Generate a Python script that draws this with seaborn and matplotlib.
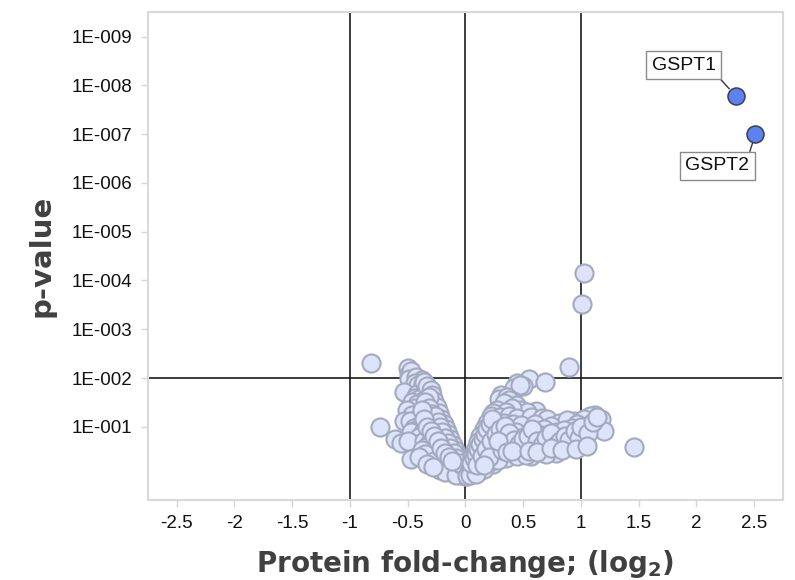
import numpy as np
import pandas as pd
import seaborn as sns
import matplotlib.pyplot as plt

# log2 fold-change and -log10(p) (background proteins)
fc_left = [-0.82, -0.50, -0.49, -0.47, -0.49, -0.40, -0.43, -0.38, -0.44, -0.41, -0.37, -0.35,
           -0.53, -0.35, -0.39, -0.42, -0.33, -0.36, -0.44, -0.40, -0.34, -0.31, -0.37, -0.46,
           -0.42, -0.33, -0.30, -0.38, -0.44, -0.51, -0.35, -0.31, -0.28, -0.40, -0.46, -0.33,
           -0.29, -0.37, -0.42, -0.26, -0.31, -0.53, -0.48, -0.35, -0.28, -0.24, -0.40, -0.74,
           -0.45, -0.32, -0.27, -0.22, -0.43, -0.47, -0.37, -0.30, -0.25, -0.20, -0.34, -0.40,
           -0.28, -0.23, -0.61, -0.56, -0.44, -0.50, -0.36, -0.31, -0.18, -0.26, -0.21, -0.34,
           -0.29, -0.16, -0.24, -0.19, -0.38, -0.13, -0.31, -0.47, -0.27, -0.22, -0.16, -0.11,
           -0.35, -0.40, -0.20, -0.14, -0.09, -0.27, -0.17, -0.12, -0.07, -0.33, -0.22, -0.15,
           -0.10, -0.05, -0.11, -0.07, -0.03, -0.18, -0.28, 0.00, -0.02, -0.05, -0.08,
           -0.36, -0.33, -0.30, -0.29, -0.27, -0.25, -0.23, -0.21, -0.19, -0.17, -0.15, -0.13,
           -0.11, -0.09, -0.07, -0.05, -0.03, -0.32, -0.35, -0.32, -0.29, -0.26, -0.24, -0.22,
           -0.20, -0.18, -0.15, -0.13, -0.10, -0.08, -0.05, -0.38, -0.36, -0.33, -0.30, -0.27,
           -0.24, -0.21, -0.18, -0.14, -0.12]
nlp_left = [2.30, 2.21, 2.09, 2.15, 1.99, 1.99, 2.02, 1.95, 1.90, 1.86, 1.88, 1.80,
            1.71, 1.76, 1.72, 1.68, 1.70, 1.64, 1.60, 1.58, 1.58, 1.55, 1.52, 1.50,
            1.46, 1.45, 1.42, 1.40, 1.38, 1.35, 1.33, 1.31, 1.30, 1.28, 1.25, 1.24,
            1.22, 1.19, 1.16, 1.15, 1.13, 1.11, 1.12, 1.07, 1.05, 1.03, 1.02, 0.99,
            0.98, 0.96, 0.93, 0.92, 0.94, 0.90, 0.90, 0.87, 0.84, 0.82, 0.82, 0.80,
            0.78, 0.75, 0.74, 0.67, 0.64, 0.70, 0.71, 0.68, 0.70, 0.65, 0.63, 0.58,
            0.56, 0.58, 0.53, 0.51, 0.52, 0.50, 0.40, 0.33, 0.44, 0.42, 0.42, 0.43,
            0.45, 0.38, 0.34, 0.33, 0.34, 0.29, 0.26, 0.25, 0.26, 0.24, 0.12, 0.17,
            0.16, 0.18, 0.05, 0.09, 0.10, 0.08, 0.18, 0.00, 0.03, 0.02, 0.01,
            1.92, 1.84, 1.75, 1.65, 1.52, 1.40, 1.28, 1.17, 1.05, 0.95, 0.85, 0.74,
            0.63, 0.52, 0.42, 0.31, 0.21, 1.62, 1.50, 1.38, 1.27, 1.22, 1.10, 0.99,
            0.89, 0.78, 0.66, 0.56, 0.46, 0.36, 0.26, 1.34, 1.15, 1.00, 0.92, 0.82,
            0.70, 0.57, 0.46, 0.38, 0.30]

fc_right = [0.90, 1.03, 1.01, 0.55, 0.69, 0.45, 0.42, 0.50, 0.47,
            0.31, 0.29, 0.41, 0.36, 0.38, 0.44, 0.33,
            0.61, 0.48, 0.53, 0.40, 0.27, 0.35, 0.24,
            0.22, 0.30, 0.38, 0.45, 0.57, 0.66, 0.71, 0.81, 0.94, 1.12, 1.08, 1.17, 1.03, 0.88,
            0.19, 0.26, 0.33, 0.29, 0.41, 0.52, 0.48, 0.60, 0.74, 0.97, 1.05, 0.92, 0.68,
            0.16, 0.22, 0.36, 0.44, 0.55, 0.63, 0.78, 0.85, 1.01, 1.20, 0.27, 0.71,
            0.13, 0.19, 0.25, 0.31, 0.39, 0.47, 0.58, 0.66, 0.88, 0.94, 1.03, 0.75, 0.82,
            0.11, 0.16, 0.22, 0.28, 0.35, 0.42, 0.50, 0.67, 0.99, 0.86, 0.60, 1.46, 0.93,
            0.08, 0.13, 0.19, 0.25, 0.30, 0.35, 0.45, 0.57, 0.78, 0.70, 0.52,
            0.06, 0.10, 0.15, 0.24, 0.20, 0.28,
            0.04, 0.08, 0.12, 0.16, 0.03, 0.06,
            0.01, 0.04, 0.09,
            0.05, 0.07, 0.09, 0.11, 0.13, 0.15, 0.17, 0.19, 0.21, 0.23, 0.10, 0.14,
            0.18, 0.22, 0.26, 0.30, 0.34, 0.38, 0.42, 0.46, 0.50, 0.54, 0.58, 0.62,
            0.66, 0.70, 0.74, 0.78, 0.82, 0.86, 0.90, 0.95, 0.98, 1.00, 1.06, 1.10,
            1.14, 0.20, 0.16, 0.32, 0.28, 0.36, 0.40, 0.55, 0.62, 0.74, 0.84, 0.96, 1.05]
nlp_right = [2.23, 4.16, 3.52, 1.98, 1.91, 1.90, 1.80, 1.83, 1.86,
             1.66, 1.56, 1.52, 1.62, 1.55, 1.45, 1.48,
             1.32, 1.35, 1.30, 1.38, 1.35, 1.30, 1.28,
             1.22, 1.20, 1.22, 1.18, 1.20, 1.18, 1.15, 1.08, 1.11, 1.25, 1.22, 1.15, 1.15, 1.14,
             1.08, 1.05, 1.08, 1.01, 1.06, 0.97, 1.04, 1.05, 1.02, 1.05, 1.02, 0.98, 0.96,
             0.95, 0.92, 0.93, 0.90, 0.88, 0.86, 0.90, 0.93, 0.91, 0.91, 0.88, 0.84,
             0.82, 0.78, 0.76, 0.80, 0.77, 0.78, 0.74, 0.72, 0.74, 0.80, 0.70, 0.70, 0.78,
             0.68, 0.64, 0.62, 0.60, 0.63, 0.58, 0.60, 0.54, 0.64, 0.60, 0.56, 0.59, 0.58,
             0.52, 0.48, 0.45, 0.46, 0.42, 0.36, 0.41, 0.40, 0.47, 0.44, 0.43,
             0.38, 0.33, 0.30, 0.23, 0.28, 0.31,
             0.20, 0.16, 0.09, 0.14, 0.08, 0.05,
             0.00, 0.02, 0.03,
             0.25, 0.35, 0.45, 0.55, 0.65, 0.75, 0.85, 0.95, 1.05, 1.15, 0.22, 0.40,
             0.55, 0.70, 0.85, 0.95, 1.02, 0.88, 0.72, 0.65, 0.75, 0.82, 0.95, 0.70,
             0.62, 0.78, 0.88, 0.62, 0.70, 0.82, 0.72, 0.92, 0.78, 1.00, 0.88, 1.10,
             1.20, 0.38, 0.22, 0.52, 0.70, 0.48, 0.50, 0.50, 0.48, 0.56, 0.52, 0.55, 0.60]

# highlighted hits
hit_names = ["GSPT1", "GSPT2"]
hit_fc = [2.34, 2.51]
hit_nlp = [7.78, 7.00]
label_pos = [(1.89, 8.41), (2.18, 6.35)]
label_anchor = [(1.0, 0.0), (0.98, 1.0)]

y_ticks = [1, 2, 3, 4, 5, 6, 7, 8, 9]
x_ticks = [-2.5, -2, -1.5, -1, -0.5, 0, 0.5, 1, 1.5, 2, 2.5]

bg = pd.DataFrame({"fc": fc_left + fc_right, "nlp": nlp_left + nlp_right})
hits = pd.DataFrame({"fc": hit_fc, "nlp": hit_nlp, "name": hit_names})

sns.set_style("white")
plt.rcParams["font.family"] = ["Liberation Sans", "DejaVu Sans"]

fig = plt.figure(figsize=(7.95, 5.8), dpi=100)
ax = fig.add_axes([0.186, 0.138, 0.799, 0.841])

# threshold lines
for xv in [-1, 0, 1]:
    ax.axvline(xv, color="#1a1a1a", lw=1.2, zorder=1)
ax.axhline(2, color="#1a1a1a", lw=1.2, zorder=1)

sns.scatterplot(data=bg, x="fc", y="nlp", ax=ax, s=170, color="#dde3f8",
                edgecolor="#a3aac0", linewidth=1.5, zorder=3)
sns.scatterplot(data=hits, x="fc", y="nlp", ax=ax, s=150, color="#5b82ef",
                edgecolor="#3c3f55", linewidth=1.1, zorder=4)

for name, xx, yy, (tx, ty), rp in zip(hit_names, hit_fc, hit_nlp, label_pos, label_anchor):
    ax.annotate(name, xy=(xx, yy), xytext=(tx, ty), ha="center", va="center",
                fontsize=14, color="#111111",
                bbox=dict(boxstyle="square,pad=0.28", fc="white", ec="#8a8a8a", lw=1.0),
                arrowprops=dict(arrowstyle="-", color="#333333", lw=1.0,
                                shrinkA=0, shrinkB=7, relpos=rp),
                zorder=5)

ax.set_xlim(-2.75, 2.75)
ax.set_ylim(-0.5, 9.5)
ax.set_xticks(x_ticks)
ax.set_xticklabels([f"{v:g}" for v in x_ticks])
ax.set_yticks(y_ticks)
ax.set_yticklabels([f"1E-{k:03d}" for k in y_ticks])
ax.tick_params(axis="both", which="both", length=5, width=1, color="#d6d6d6",
               labelsize=13.5, labelcolor="#111111", pad=6, direction="out",
               bottom=True, left=True)

for sp in ax.spines.values():
    sp.set_color("#d9d9d9")
    sp.set_linewidth(1.5)

ax.set_xlabel(r"Protein fold-change; (log$_{\mathbf{2}}$)", fontsize=20,
              fontweight="bold", color="#404040", family="DejaVu Sans", labelpad=11)
ax.set_ylabel("p-value", fontsize=21, fontweight="bold", color="#404040",
              family="DejaVu Sans", labelpad=12)

fig.savefig("out.png", dpi=100)
